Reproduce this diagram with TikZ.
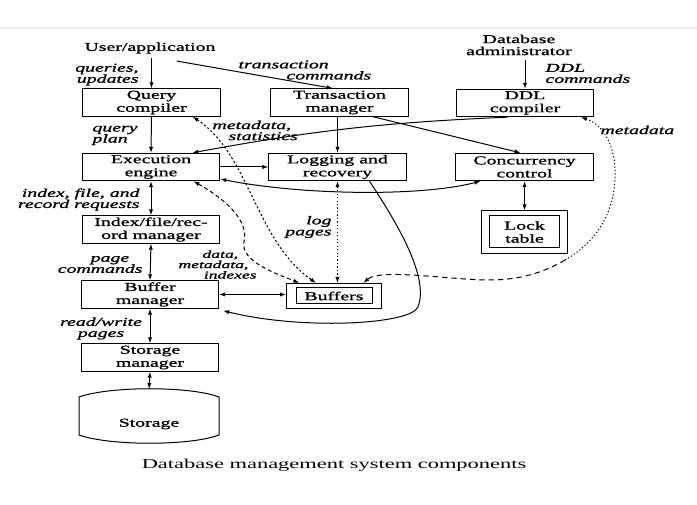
\documentclass[tikz,border=0pt]{standalone}
\usepackage{fontspec}
\setmainfont{Liberation Serif}[FakeStretch=1.65,FakeBold=1.3]
\newfontfamily\capfont{Liberation Serif}[FakeStretch=1.65]
\usetikzlibrary{arrows.meta,fit}
\begin{document}
\begin{tikzpicture}[x=0.75pt,y=-0.75pt,
    line width=0.75pt,
    >={Latex[length=4.5pt,width=3.2pt]},
    txt/.style={font=\fontsize{9}{9.75}\selectfont},
    comp/.style={txt,draw,minimum width=103pt,minimum height=20.5pt,inner sep=1pt,align=center},
    lbl/.style={font=\fontsize{9}{8.3}\selectfont\itshape,inner sep=0pt},
    metaline/.style={dash pattern=on 1.6pt off 1.6pt},
    dataline/.style={dash pattern=on 3pt off 2.2pt},
    logline/.style={dash pattern=on 0.9pt off 1.7pt},
    ddlline/.style={dash pattern=on 4pt off 3pt}]
  \useasboundingbox (0,0) rectangle (697,505);
  \draw[black!7,line width=1pt] (0,28) -- (697,28);

  \node[txt] (user) at (150,48) {User/application};
  \node[txt,align=center,font=\fontsize{9}{9}\selectfont] (dba) at (519,45) {Database\\administrator};

  \node[comp] (qc)   at (151.5,102.5) {Query\\compiler};
  \node[comp] (tm)   at (339.5,102.5) {Transaction\\manager};
  \node[comp] (ddl)  at (525,103)     {DDL\\compiler};
  \node[comp] (exec) at (151,167)     {Execution\\engine};
  \node[comp] (log)  at (337.5,167)   {Logging and\\recovery};
  \node[comp] (cc)   at (524.5,167)   {Concurrency\\control};
  \node[comp] (idx)  at (151,229.5)   {Index/file/rec-\\ord manager};
  \node[comp] (bm)   at (150,294.5)   {Buffer\\manager};
  \node[comp] (sm)   at (150,357.5)   {Storage\\manager};

  \node[txt,draw,minimum width=57pt,minimum height=12pt,inner sep=0pt] (bufin) at (334,296) {Buffers};
  \node[draw,fit=(bufin),inner xsep=6.75pt,inner ysep=3pt] (buf) {};
  \node[txt,draw,minimum width=53pt,minimum height=24pt,inner sep=0pt,align=center] (lockin) at (524.5,232) {Lock\\table};
  \node[draw,fit=(lockin),inner xsep=5.6pt,inner ysep=3.4pt] (lock) {};

  \draw (79,397) -- (79,435) .. controls (110,446) and (190,446) .. (219,435)
    -- (219,397) .. controls (190,386) and (110,386) .. cycle;
  \node[txt] (stor) at (149,424) {Storage};
  \coordinate (stortop) at (149,389);

  \node[lbl,anchor=east,align=right] (qlbl) at (139,74.5) {queries,\\updates};
  \node[lbl,anchor=west,align=left] (tlbl) at (238,70) {transaction\\\hspace*{36pt}commands};
  \node[lbl,anchor=west,align=left] (dlbl) at (545,73.5) {DDL\\commands};
  \node[lbl,anchor=west,align=left] (plbl) at (92,135.5) {query\\plan};
  \node[lbl,anchor=west,align=left] (mlbl) at (212,130.5) {metadata,\\\hspace*{12pt}statistics};
  \node[lbl,anchor=west] (mdlbl) at (600,130) {metadata};
  \node[lbl,anchor=east,align=right] (ilbl) at (140,199.5) {index, file, and\\record requests};
  \node[lbl,anchor=east,align=right] (pclbl) at (143,264.5) {page\hspace*{10pt}\\commands};
  \node[lbl,anchor=west,align=left,font=\fontsize{8}{6.6}\selectfont\itshape] (dmlbl) at (178,264.5) {\hspace*{18pt}data,\\metadata,\\\hspace*{19pt}indexes};
  \node[lbl,anchor=east,align=right] (lplbl) at (332,227) {log\\pages};
  \node[lbl,align=center] (rwlbl) at (101,328.5) {read/write\\pages};

  \draw[->] (user.south -| qc.north) -- (qc.north);
  \draw[->] ([xshift=20pt,yshift=-2pt]user.south) -- ([xshift=-5pt]tm.north);
  \draw[->] (dba.south -| ddl.north) -- (ddl.north);
  \draw[->] (qc.south) -- (exec.north);
  \draw[->] (tm.south -| log.north) -- (log.north);
  \draw[->] ([xshift=25pt]tm.south) -- ([xshift=-3pt]cc.north);
  \draw[->] ([xshift=-13pt]ddl.south) to[bend right=4] ([xshift=31pt]exec.north);
  \draw[->] (exec.east) -- (log.west);
  \draw[<->] ([yshift=-9pt]exec.east) .. controls (300,195) and (420,197) .. ([xshift=-33pt]cc.south);
  \draw[<->] (exec.south) -- (idx.north);
  \draw[<->] (idx.south) -- (bm.north);
  \draw[<->] (bm.south) -- (sm.north);
  \draw[<->] (sm.south) -- (stortop);
  \draw[<->] (bm.east) -- (bm.east -| buf.west);
  \draw[<->] (cc.south) -- (lock.north);
  \draw[->] ([xshift=24pt]log.south) .. controls (405,235) and (428,280) .. (418,307)
    .. controls (410,325) and (300,330) .. ([xshift=3pt,yshift=-1.5pt]bm.south east);

  \draw[<->,logline] (log.south) -- (log.south |- buf.north);
  \draw[<->,dataline] ([xshift=-20pt]exec.south east) .. controls (235,205) and (248,225) .. (244,242)
    .. controls (240,262) and (280,275) .. ([xshift=10pt]buf.north west);
  \draw[<->,metaline] ([xshift=-21pt]qc.south east) .. controls (250,155) and (255,240) .. ([xshift=22.5pt]buf.north west);
  \coordinate (ddlmid) at (565,260);
  \draw[<-,logline] ([xshift=-10pt]ddl.south east) .. controls (605,125) and (617,150) .. (615,180)
    .. controls (613,215) and (595,243) .. (ddlmid);
  \draw[->,ddlline] (ddlmid) .. controls (545,272) and (520,280) .. (490,280)
    .. controls (450,280) and (380,268) .. ([xshift=-14pt]buf.north east);

  \node[font=\capfont\fontsize{10.2}{12}\selectfont] (cap) at (334,465) {Database management system components};
\end{tikzpicture}
\end{document}
